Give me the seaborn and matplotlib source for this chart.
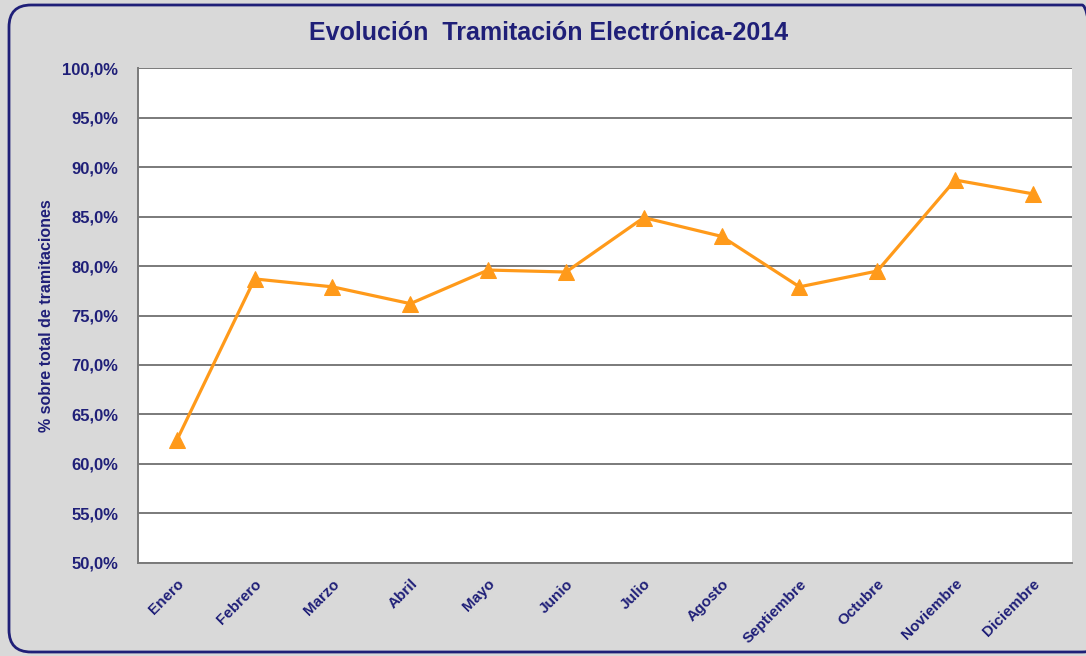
import matplotlib
matplotlib.use("Agg")
import matplotlib.pyplot as plt
from matplotlib.patches import FancyBboxPatch
from matplotlib.transforms import IdentityTransform
from matplotlib.ticker import FuncFormatter, MultipleLocator
import seaborn as sns
import pandas as pd

# data
meses = ["Enero", "Febrero", "Marzo", "Abril", "Mayo", "Junio", "Julio",
         "Agosto", "Septiembre", "Octubre", "Noviembre", "Diciembre"]
porcentaje = [62.4, 78.7, 77.9, 76.2, 79.6, 79.4, 84.9, 83.0, 77.9, 79.5, 88.7, 87.3]

df = pd.DataFrame({"mes": meses, "pct": porcentaje})

sns.set_style("white")
plt.rcParams["font.family"] = ["Liberation Sans", "DejaVu Sans"]

navy = "#1f1f78"
bg = "#d9d9d9"

fig = plt.figure(figsize=(10.86, 6.56), dpi=100)
fig.patch.set_facecolor(bg)
ax = fig.add_axes([0.127, 0.142, 0.860, 0.754])
ax.set_facecolor("white")

sns.lineplot(data=df, x="mes", y="pct", sort=False, ax=ax, color="#ff9a1a",
             linewidth=2.3, marker="^", markersize=11, markeredgecolor="#ff9a1a")

ax.set_xlim(-0.5, len(meses) - 0.5)
ax.set_ylim(50, 100)
ax.yaxis.set_major_locator(MultipleLocator(5))
ax.yaxis.set_major_formatter(FuncFormatter(lambda v, p: f"{v:.1f}%".replace(".", ",")))
ax.grid(axis="y", color="#7a7a7a", linewidth=1.4)
ax.set_axisbelow(True)

for s in ["top", "right"]:
    ax.spines[s].set_visible(False)
for s in ["left", "bottom"]:
    ax.spines[s].set_color("#7a7a7a")
    ax.spines[s].set_linewidth(1.4)

ax.tick_params(axis="both", length=0)
ax.tick_params(axis="y", pad=14)
plt.setp(ax.get_yticklabels(), fontsize=12, fontweight="bold", color=navy)
plt.setp(ax.get_xticklabels(), fontsize=11, fontweight="bold", color=navy,
         rotation=45, ha="right", rotation_mode="anchor")
ax.tick_params(axis="x", pad=10)

ax.set_xlabel("")
ax.set_ylabel("% sobre total de tramitaciones", fontsize=11.5, fontweight="bold",
              color=navy, labelpad=6)

fig.text(0.505, 0.950, "Evolución  Tramitación Electrónica-2014", ha="center",
         va="center", fontsize=18, fontweight="bold", color=navy)

# rounded frame, drawn in pixels
border = FancyBboxPatch((9, 4), 1095, 647,
                        boxstyle="round,pad=0,rounding_size=22",
                        transform=IdentityTransform(), facecolor="none",
                        edgecolor=navy, linewidth=2, clip_on=False)
fig.patches.append(border)

fig.savefig("out.png", dpi=100, facecolor=bg)
